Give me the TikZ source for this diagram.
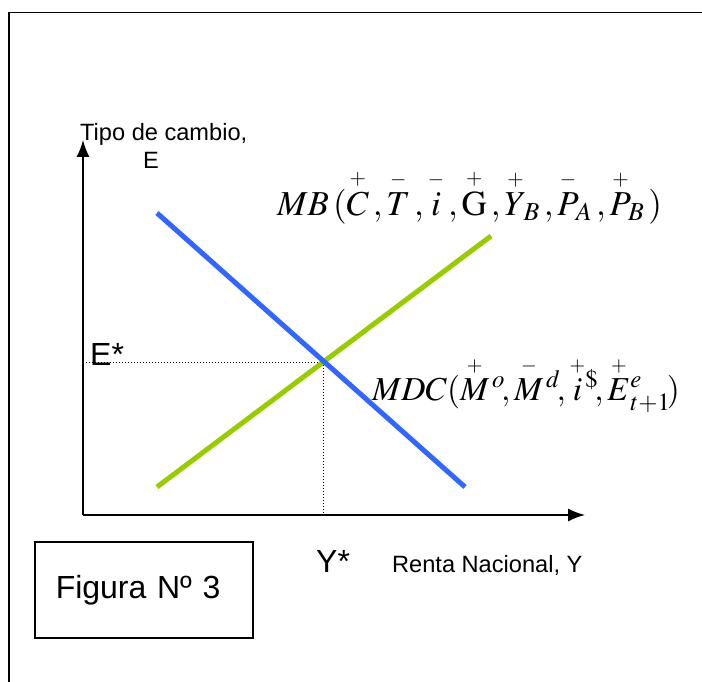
\documentclass[tikz,border=0pt]{standalone}
\usepackage{amsmath}
\usepackage{mathptmx}
\usepackage[no-math]{fontspec}
\setmainfont{Liberation Sans}
\usetikzlibrary{arrows.meta}
\definecolor{MBBlue}{RGB}{51,102,255}
\definecolor{MDCGreen}{RGB}{153,204,0}
\tikzset{>={Latex[length=17pt,width=13pt]}}
\tikzset{axis/.style={line width=1.5pt,->}}
\tikzset{curve/.style={line width=5pt}}
\tikzset{guide/.style={dotted,line width=1pt}}
\tikzset{smalltext/.style={font=\fontsize{23.6}{28}\selectfont,inner sep=0pt,anchor=base west}}
\tikzset{bigtext/.style={font=\fontsize{32}{38}\selectfont,inner sep=0pt,anchor=base west}}
\tikzset{mathlabel/.style={font=\fontsize{35}{40}\selectfont,inner sep=0pt,anchor=base west}}
\tikzset{figbox/.style={draw,line width=1.5pt,font=\fontsize{32}{38}\selectfont,text width=176pt,inner xsep=21pt,minimum height=96pt,align=left}}
\newcommand{\signed}[2]{\smash[t]{\overset{\scriptscriptstyle #1}{#2}}}

\begin{document}
\begin{tikzpicture}[x=1pt,y=-1pt]
    \useasboundingbox (0,0) rectangle (702,682);
    % frame
    \draw[line width=1.5pt] (9,682) -- (9,12.5) -- (702,12.5);
    % axes
    \coordinate (O) at (83,515);
    \coordinate (ytop) at (83,140);
    \coordinate (xend) at (585,515);
    \draw[axis] (O) -- (ytop);
    \draw[axis] (O) -- (xend);
    % curves
    \coordinate (mbA) at (157,213);
    \coordinate (mbB) at (465,487);
    \coordinate (mdcA) at (157,487);
    \coordinate (mdcB) at (491,236);
    \coordinate (eq) at (323,362);
    \draw[guide] (eq -| O) -- (eq) -- (eq |- O);
    \draw[curve,MDCGreen] (mdcA) -- (mdcB);
    \draw[curve,MBBlue] (mbA) -- (mbB);
    % labels
    \node[smalltext] (ylab) at (80,141) {Tipo de cambio,};
    \node[smalltext] (ylabE) at (143,168) {E};
    \node[bigtext] (estar) at (90,365) {E*};
    \node[bigtext] (ystar) at (316,572) {Y*};
    \node[smalltext] (xlab) at (392,572) {Renta Nacional, Y};
    \node[mathlabel] (mb) at (277,215)
        {$MB\,(\signed{+}{C}\,,\signed{-}{T}\,,\signed{-}{i}\,,\signed{+}{\mathrm{G}}\,,\signed{+}{Y}_{\!B}\,,\signed{-}{P}_{\!A}\,,\signed{+}{P}_{\!B}\,)$};
    \node[mathlabel,font=\fontsize{33.5}{40}\selectfont] (mdc) at (372,400)
        {$MDC(\signed{+}{M}^{\,o}\!,\signed{-}{M}^{\,d}\!,\signed{+}{i}^{\$}\!,\signed{+}{E}^{e}_{t+1}\!)$};
    \node[figbox,anchor=north west] (fig) at (34,541) {Figura Nº 3};
\end{tikzpicture}
\end{document}
